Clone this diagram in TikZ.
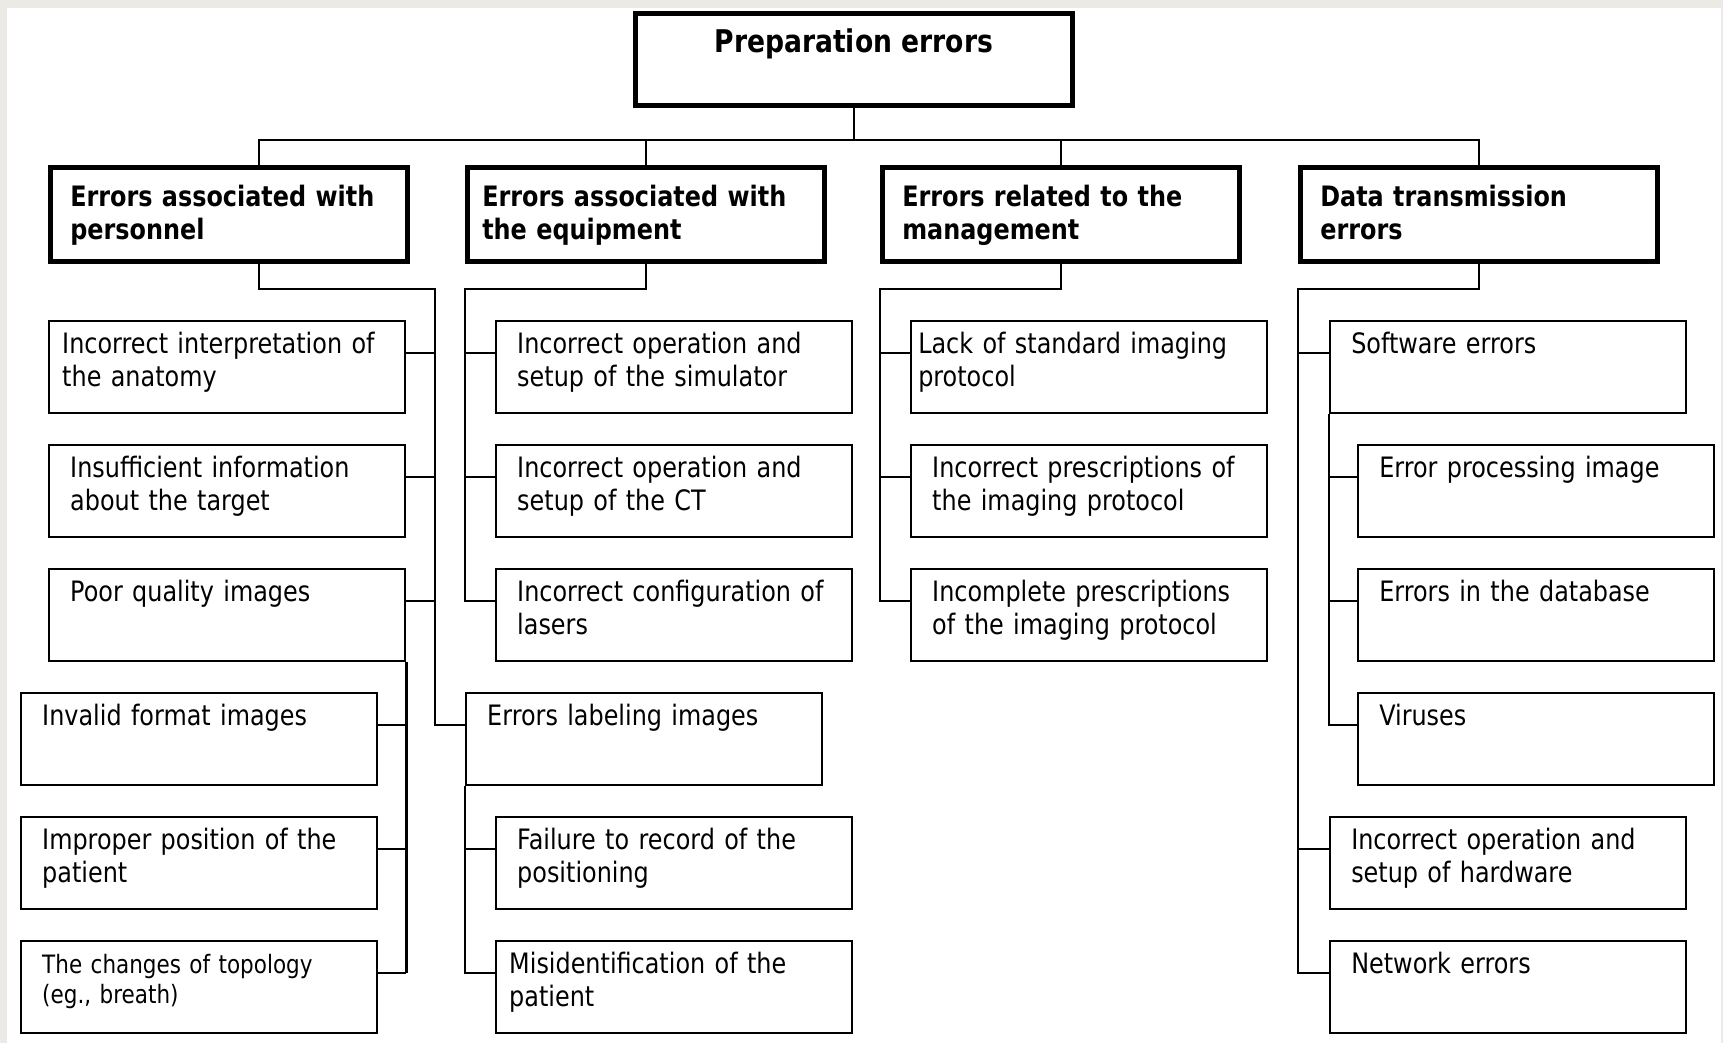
\documentclass[tikz,border=0pt]{standalone}
\usepackage{fontspec}
\setmainfont{DejaVu Sans}[FakeStretch=0.85]
\usetikzlibrary{positioning}
\definecolor{framegray}{RGB}{236,234,229}

\begin{document}
\begin{tikzpicture}[
    x = 0.1mm, y = -0.1mm,
    node distance = 2.95mm,
    rootbox/.style = {rectangle, draw, line width=1.3pt, anchor=north west, minimum width=43.7mm, inner ysep=0pt, text height=3.9mm, text depth=5.3mm, font=\bfseries\fontsize{8.9}{11}\selectfont},
    group/.style = {rectangle, draw, line width=1.3pt, anchor=north west, align=left, inner xsep=2mm, inner ysep=0pt, text width=31.7mm, text height=3.9mm, text depth=5.5mm, font=\bfseries\fontsize{8}{9.4}\selectfont},
    item/.style = {rectangle, draw, line width=0.7pt, align=left, inner xsep=2.1mm, inner ysep=0pt, text width=31.4mm, text height=3.2mm, text depth=6mm, font=\fontsize{8}{9.4}\selectfont},
    link/.style = {line width=0.6pt}
]

% Background
    \fill[framegray] (0,0) rectangle (1723,1043);
    \fill[white] (7,8) rectangle (1721,1043);
    \useasboundingbox (0,0) rectangle (1723,1043);

% Root and groups
    \node[rootbox] (prep) at (633,11) {Preparation errors};
    \node[group] (pers) at (48,165) {Errors associated with\\personnel};
    \node[group, inner xsep=1.5mm, text width=32.7mm] (equip) at (465,165) {Errors associated with\\the equipment};
    \node[group] (manag) at (880,165) {Errors related to the\\management};
    \node[group] (trans) at (1298,165) {Data transmission\\errors};

% Personnel
    \node[item, anchor=north west, inner xsep=1.3mm, text width=33mm] (pers1) at (48,320) {Incorrect interpretation of\\the anatomy};
    \node[item, below=of pers1] (pers2) {Insufficient information\\about the target};
    \node[item, below=of pers2] (pers3) {Poor quality images};
    \node[item, below=of pers3, xshift=-2.8mm] (pers4) {Invalid format images};
    \node[item, below=of pers4] (pers5) {Improper position of the\\patient};
    \node[item, below=of pers5, font=\fontsize{7.2}{8.6}\selectfont] (pers6) {The changes of topology\\(eg., breath)};

% Equipment
    \node[item, anchor=north west] (equip1) at (495,320) {Incorrect operation and\\setup of the simulator};
    \node[item, below=of equip1] (equip2) {Incorrect operation and\\setup of the CT};
    \node[item, below=of equip2] (equip3) {Incorrect configuration of\\lasers};
    \node[item, below=of equip3, xshift=-3mm] (label) {Errors labeling images};
    \node[item, below=of label, xshift=3mm] (equip5) {Failure to record of the\\positioning};
    \node[item, below=of equip5, inner xsep=1.3mm, text width=33mm] (equip6) {Misidentification of the\\patient};

% Management
    \node[item, anchor=north west, inner xsep=0.7mm, text width=34.2mm] (manag1) at (910,320) {Lack of standard imaging\\protocol};
    \node[item, below=of manag1] (manag2) {Incorrect prescriptions of\\the imaging protocol};
    \node[item, below=of manag2] (manag3) {Incomplete prescriptions\\of the imaging protocol};

% Data transmission
    \node[item, anchor=north west] (trans1) at (1329,320) {Software errors};
    \node[item, below=of trans1, xshift=2.8mm] (soft1) {Error processing image};
    \node[item, below=of soft1] (soft2) {Errors in the database};
    \node[item, below=of soft2] (soft3) {Viruses};
    \node[item, below=of soft3, xshift=-2.8mm] (trans2) {Incorrect operation and\\setup of hardware};
    \node[item, below=of trans2] (trans3) {Network errors};

% Connectors
    \coordinate (bus) at ([yshift=-3.2mm]prep.south);
    \coordinate (elbA) at (435,289);
    \draw[link] (prep.south) -- (bus);
    \draw[link] ([xshift=3.05mm]pers.north) |- (bus) -| (trans.north);
    \draw[link] (equip.north) -- (equip.north |- bus);
    \draw[link] (manag.north) -- (manag.north |- bus);

    \draw[link] ([xshift=3.05mm]pers.south) |- (elbA) -- (elbA |- label.base west) -- (label.base west);
    \foreach \n in {pers1,pers2,pers3}
        \draw[link] (\n.base east) -- (\n.base east -| elbA);
    \draw[link] (pers3.south east) -- (pers3.south east |- pers6.base east);
    \foreach \n in {pers4,pers5,pers6}
        \draw[link] (\n.base east) -- (\n.base east -| pers3.east);

    \draw[link] (equip.south) |- (equip.south west |- elbA) -- (equip.south west |- equip3.base west) -- (equip3.base west);
    \foreach \n in {equip1,equip2}
        \draw[link] (\n.base west) -- (\n.base west -| equip.west);
    \draw[link] (label.south west) -- (label.south west |- equip6.base west) -- (equip6.base west);
    \draw[link] (equip5.base west) -- (equip5.base west -| label.west);

    \draw[link] (manag.south) |- (manag.south west |- elbA) -- (manag.south west |- manag3.base west) -- (manag3.base west);
    \foreach \n in {manag1,manag2}
        \draw[link] (\n.base west) -- (\n.base west -| manag.west);

    \draw[link] (trans.south) |- (trans.south west |- elbA) -- (trans.south west |- trans3.base west) -- (trans3.base west);
    \foreach \n in {trans1,trans2}
        \draw[link] (\n.base west) -- (\n.base west -| trans.west);
    \draw[link] (trans1.south west) -- (trans1.south west |- soft3.base west) -- (soft3.base west);
    \foreach \n in {soft1,soft2}
        \draw[link] (\n.base west) -- (\n.base west -| trans1.west);
\end{tikzpicture}
\end{document}
